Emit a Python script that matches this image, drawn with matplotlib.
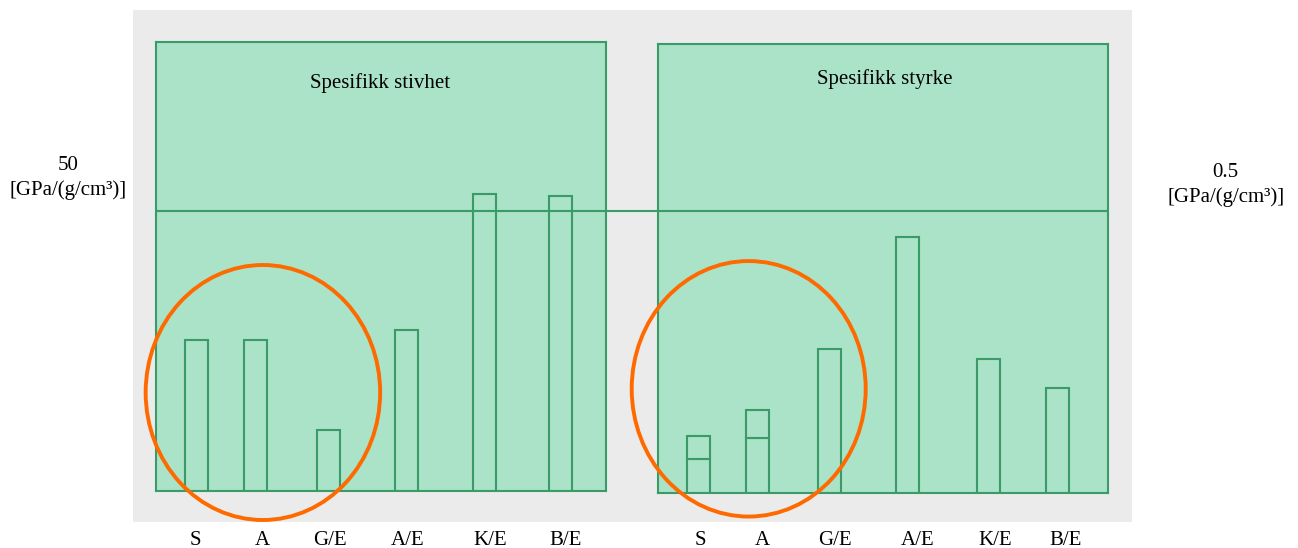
import matplotlib
matplotlib.use("Agg")
import matplotlib.pyplot as plt
from matplotlib.patches import Rectangle, Ellipse

# ---- data ----
categories = ["S", "A", "G/E", "A/E", "K/E", "B/E"]
stiffness = [26.9, 26.9, 10.9, 28.7, 53.1, 52.7]          # GPa/(g/cm3)
strength_top = [0.102, 0.148, 0.256, 0.454, 0.237, 0.187]  # GPa/(g/cm3)
strength_low = [0.060, 0.098, None, None, None, None]      # inner division line
stiff_ref, stiff_ref_label = 50, "50"
str_ref, str_ref_label = 0.5, "0.5"
unit_label = "[GPa/(g/cm³)]"
title_left = "Spesifikk stivhet"
title_right = "Spesifikk styrke"

# ---- style ----
W, H = 1298, 548
FILL = "#aae3c7"
EDGE = "#3a9a68"
ORANGE = "#ff6a00"
GRAY = "#ebebeb"
FONT = "Liberation Serif"
FS = 15

fig = plt.figure(figsize=(W / 100, H / 100), dpi=100)

def frac(x0, y0, x1, y1):
    return [x0 / W, 1 - y1 / H, (x1 - x0) / W, (y1 - y0) / H]

# background
bg = fig.add_axes([0, 0, 1, 1], zorder=0)
bg.set_xlim(0, W); bg.set_ylim(H, 0); bg.axis("off")
bg.add_patch(Rectangle((133, 10), 1131.7 - 133, 521.7 - 10, facecolor=GRAY, edgecolor="none"))

def panel(box, values, ref, top_px, base_px, ref_px, centers, low=None):
    ax = fig.add_axes(frac(*box), zorder=1)
    scale = (base_px - ref_px) / ref
    ax.set_ylim(0, (base_px - top_px) / scale)
    ax.set_xlim(0, box[2] - box[0])
    ax.set_facecolor(FILL)
    for s in ax.spines.values():
        s.set_color(EDGE); s.set_linewidth(1.5)
    ax.set_xticks([]); ax.set_yticks([])
    ax.axhline(ref, color=EDGE, lw=1.5)
    for i, v in enumerate(values):
        lv = low[i] if low is not None else None
        if lv is not None:
            ax.bar(centers[i], lv, width=23, color=FILL, edgecolor=EDGE, lw=1.5)
            ax.bar(centers[i], v - lv, bottom=lv, width=23, color=FILL, edgecolor=EDGE, lw=1.5)
        else:
            ax.bar(centers[i], v, width=23, color=FILL, edgecolor=EDGE, lw=1.5)
    return ax

left_box = (156, 42.3, 606, 490.7)
right_box = (657.7, 44.3, 1108.3, 493)
left_centers = [196.8, 255.7, 328.2, 406.5, 484.7, 560.4]
right_centers = [698.2, 757.2, 829.7, 907.8, 988.5, 1057.8]

panel(left_box, stiffness, stiff_ref, 42.3, 490.7, 211.0,
      [c - left_box[0] for c in left_centers])
panel(right_box, strength_top, str_ref, 44.3, 493.0, 211.3,
      [c - right_box[0] for c in right_centers], low=strength_low)

# overlay
ov = fig.add_axes([0, 0, 1, 1], zorder=3)
ov.set_xlim(0, W); ov.set_ylim(H, 0); ov.axis("off"); ov.patch.set_alpha(0)
ov.plot([606, 657.7], [211.2, 211.2], color=EDGE, lw=1.5)
ov.add_patch(Ellipse((262.9, 392.5), 234.5, 255, fill=False, edgecolor=ORANGE, lw=2.8))
ov.add_patch(Ellipse((748.7, 388.8), 234, 255.5, fill=False, edgecolor=ORANGE, lw=2.8))

tk = dict(ha="center", va="baseline", fontsize=FS, family=FONT, color="black")
ov.text(380.5, 88.3, title_left, **tk)
ov.text(885, 84.3, title_right, **tk)

left_lbl_x = [195.7, 262.7, 330, 407.7, 490, 565.7]
right_lbl_x = [700, 762.3, 835, 917.7, 995, 1066]
for x, c in zip(left_lbl_x, categories):
    ov.text(x, 545, c, **tk)
for x, c in zip(right_lbl_x, categories):
    ov.text(x, 545, c, **tk)

ov.text(68.5, 170, stiff_ref_label, **tk)
ov.text(68.5, 195, unit_label, **tk)
ov.text(1225.6, 176.7, str_ref_label, **tk)
ov.text(1226, 201.7, unit_label, **tk)

fig.savefig("out.png", dpi=100)
